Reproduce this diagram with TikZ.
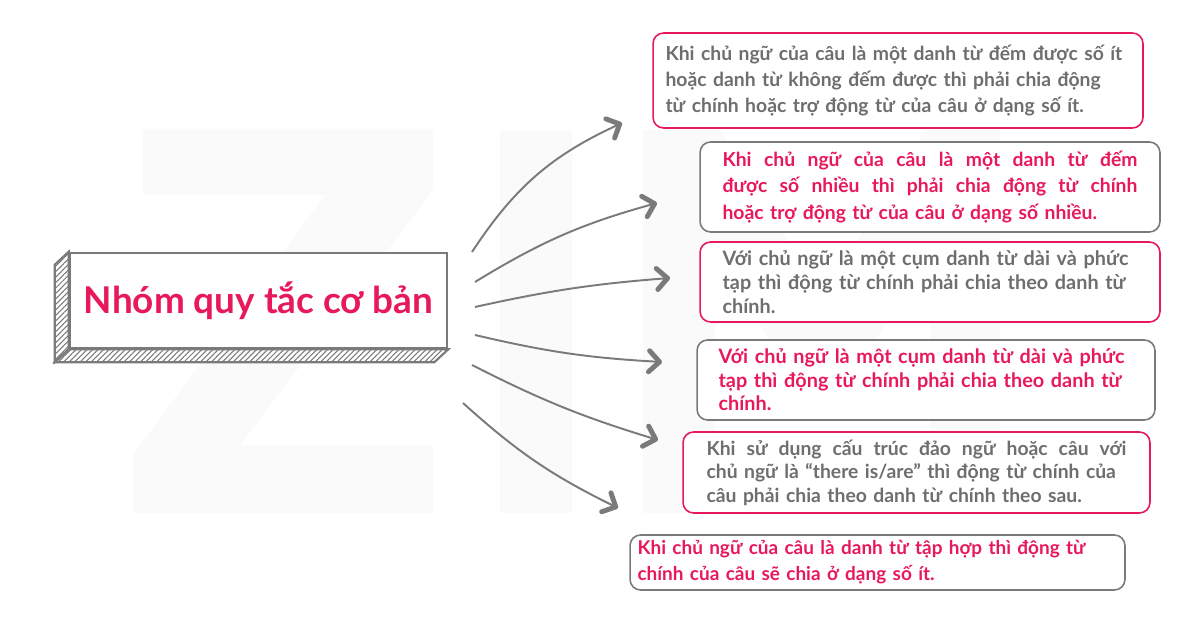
\documentclass[tikz,border=0pt]{standalone}
\usepackage{fontspec}
\setmainfont{Lato}
\usepackage{tikz}
\usepackage{xcolor}
\usetikzlibrary{calc}
\usetikzlibrary{patterns.meta}
\usetikzlibrary{positioning, arrows.meta}

\definecolor{rulepink}{HTML}{E8195B}
\definecolor{rulegray}{HTML}{6E6E6E}
\definecolor{edgegray}{HTML}{7A7A7A}
\definecolor{markgray}{HTML}{FAFAFA}

\newcommand{\spreadline}[1]{\hbox to \hsize{\spaceskip=0.26em plus 1fil\relax\xspaceskip=\spaceskip #1}}

\begin{document}
\begin{tikzpicture}[x=0.02cm, y=0.02cm,
    >={Straight Barb[length=6pt,width=12pt,line width=2.8pt,round]}, % Arrow tip style
    rulebox/.style={draw, rounded corners=6pt, line width=0.9pt, fill=white, inner sep=0pt, align=left},
    pinkrule/.style={rulebox, draw=rulepink, text=rulegray},
    grayrule/.style={rulebox, draw=edgegray, text=rulepink},
    branch/.style={->, draw=edgegray, line width=1.1pt}]
                        \useasboundingbox (0,0) rectangle (1200,628);
                        \fill[white] (0,0) rectangle (1200,628);

                        % Faint ZIM letters in the background
                        \fill[markgray] (143,498) -- (433,498) -- (433,438) -- (240,183) -- (433,183) -- (433,115)
                            -- (133,115) -- (133,173) -- (325,433) -- (143,433) -- cycle;
                        \fill[markgray] (500,115) rectangle (572,498);
                        \fill[markgray] (643,115) -- (643,498) -- (720,498) -- (822,330) -- (925,498) -- (1000,498)
                            -- (1000,115) -- (930,115) -- (930,370) -- (822,210) -- (715,370) -- (715,115) -- cycle;

                        % Main box with a hatched 3D edge
                        \node[draw=edgegray, line width=1.5pt, fill=white, minimum width=7.54cm, minimum height=1.9cm,
                              text=rulepink, font=\bfseries\fontsize{21}{24}\selectfont] (title) at (258.5,327.5) {Nhóm quy tắc cơ bản};
                        \draw[edgegray, line width=1.2pt, pattern={Lines[angle=45,distance=2.2pt,line width=0.6pt]}, pattern color=edgegray]
                            (title.north west) -- ++(-14,-13) -- ($(title.south west)+(-14,-13)$) -- (title.south west) -- cycle;
                        \draw[edgegray, line width=1.2pt, pattern={Lines[angle=45,distance=2.2pt,line width=0.6pt]}, pattern color=edgegray]
                            (title.south west) -- (title.south east) -- ++(-14,-13) -- ($(title.south west)+(-14,-13)$) -- cycle;

                        % Rule boxes on the right
                        \node[pinkrule, minimum width=9.8cm, minimum height=1.9cm, text width=9.3cm,
                              font=\bfseries\fontsize{11}{15}\selectfont] (r1) at (898,547.5)
                            {Khi chủ ngữ của câu là một danh từ đếm được số ít\\
                             hoặc danh từ không đếm được thì phải chia động\\
                             từ chính hoặc trợ động từ của câu ở dạng số ít.};
                        \node[grayrule, minimum width=9.2cm, minimum height=1.8cm, text width=8.3cm,
                              font=\bfseries\fontsize{11}{15}\selectfont] (r2) at (930,441)
                            {\spreadline{Khi chủ ngữ của câu là một danh từ đếm}
                             \spreadline{được số nhiều thì phải chia động từ chính}
                             hoặc trợ động từ của câu ở dạng số nhiều.};
                        \node[pinkrule, minimum width=9.2cm, minimum height=1.6cm, text width=8.3cm,
                              font=\bfseries\fontsize{11.3}{13.6}\selectfont] (r3) at (930,346)
                            {Với chủ ngữ là một cụm danh từ dài và phức\\
                             tạp thì động từ chính phải chia theo danh từ\\
                             chính.};
                        \node[grayrule, minimum width=9.16cm, minimum height=1.6cm, text width=8.3cm,
                              font=\bfseries\fontsize{11.3}{13.4}\selectfont] (r4) at (926,248)
                            {Với chủ ngữ là một cụm danh từ dài và phức\\
                             tạp thì động từ chính phải chia theo danh từ\\
                             chính.};
                        \node[pinkrule, minimum width=9.34cm, minimum height=1.62cm, text width=8.4cm,
                              font=\bfseries\fontsize{11}{13.4}\selectfont] (r5) at (916.5,155.5)
                            {\spreadline{Khi sử dụng cấu trúc đảo ngữ hoặc câu với}
                             chủ ngữ là “there is/are” thì động từ chính của\\
                             câu phải chia theo danh từ chính theo sau.};
                        \node[grayrule, minimum width=9.9cm, minimum height=1.1cm, text width=9.6cm,
                              font=\bfseries\fontsize{10.8}{14.7}\selectfont] (r6) at (877.5,65.5)
                            {Khi chủ ngữ của câu là danh từ tập hợp thì động từ\\
                             chính của câu sẽ chia ở dạng số ít.};

                        % Start and end points of the arrows
                        \coordinate (s1) at (472,376); \coordinate (e1) at (622,505);
                        \coordinate (s2) at (475,346); \coordinate (e2) at (657,425);
                        \coordinate (s3) at (475,321); \coordinate (e3) at (670,350);
                        \coordinate (s4) at (475,293); \coordinate (e4) at (662,266);
                        \coordinate (s5) at (472,263); \coordinate (e5) at (658,188);
                        \coordinate (s6) at (463,225); \coordinate (e6) at (618,120);

                        % Draw the arrows
                        \draw[branch] (s1) to[bend left=16] (e1);
                        \draw[branch] (s2) to[bend left=8] (e2);
                        \draw[branch] (s3) to[bend left=4] (e3);
                        \draw[branch] (s4) to[bend right=5] (e4);
                        \draw[branch] (s5) to[bend right=5] (e5);
                        \draw[branch] (s6) to[bend right=8] (e6);

                    \end{tikzpicture}
\end{document}
